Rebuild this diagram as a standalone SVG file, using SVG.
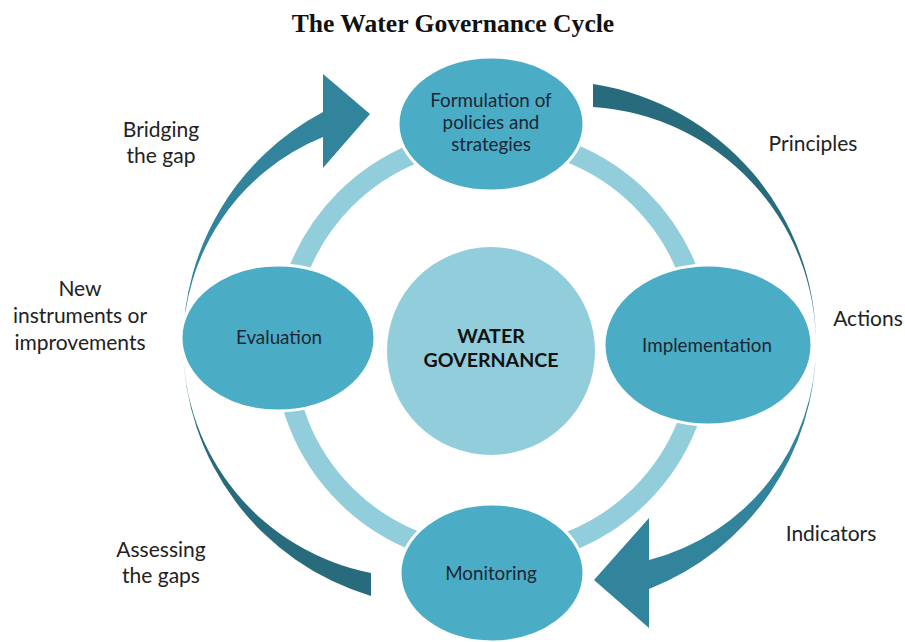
<svg xmlns="http://www.w3.org/2000/svg" width="905" height="642" viewBox="0 0 905 642">
<style>
.node{fill:#4BACC6;stroke:#ffffff;stroke-width:3}
.nt{font-family:Lato,"Open Sans",sans-serif;font-size:18.8px;fill:#1d2733;text-anchor:middle}
.lbl{font-family:Lato,"Open Sans",sans-serif;font-size:21px;fill:#222222;text-anchor:middle}
.mid{fill:#31849B}
.dark{fill:#286B7D}
</style>
<rect width="905" height="642" fill="#ffffff"/>
<text x="453" y="32" font-family="'Liberation Serif',serif" font-weight="bold" font-size="25.6" text-anchor="middle" fill="#111">The Water Governance Cycle</text>
<g id="connectors">
<circle id="ring" cx="493" cy="347" r="209" fill="none" stroke="#92CDDC" stroke-width="20"/>
<path id="arrow-bridging" class="mid" d="M183 345 A263 263 0 0 1 323 112 L323 74 L370 114 L323 168 L323 137 A224.5 224.5 0 0 0 183 345 Z"/>
<path id="arc-principles" class="dark" d="M593 84 A263 263 0 0 1 816 345 A238.5 238.5 0 0 0 593 107 Z"/>
<path id="arrow-indicators" class="mid" d="M816 345 A263 263 0 0 1 649 589 L649 628 L594 580 L649 518 L649 560 A221.9 221.9 0 0 0 816 345 Z"/>
<path id="arc-assessing" class="dark" d="M183 345 A263 263 0 0 0 371 596 L371 573 A232.3 232.3 0 0 1 183 345 Z"/>
</g>
<g id="center">
<circle cx="491" cy="351" r="104" fill="#92CDDC"/>
<text x="491" y="343" font-family="Lato,'Open Sans',sans-serif" font-weight="bold" font-size="19.6" text-anchor="middle" fill="#111">WATER</text>
<text x="491" y="367" font-family="Lato,'Open Sans',sans-serif" font-weight="bold" font-size="19.6" text-anchor="middle" fill="#111">GOVERNANCE</text>
</g>
<g id="formulation">
<ellipse class="node" cx="491" cy="124" rx="93" ry="67"/>
<text class="nt" x="491" y="107">Formulation of</text>
<text class="nt" x="491" y="129">policies and</text>
<text class="nt" x="491" y="151">strategies</text>
</g>
<g id="implementation">
<ellipse class="node" cx="708" cy="345" rx="104" ry="80"/>
<text class="nt" x="707" y="352">Implementation</text>
</g>
<g id="monitoring">
<ellipse class="node" cx="492" cy="573" rx="92" ry="69"/>
<text class="nt" x="491" y="580">Monitoring</text>
</g>
<g id="evaluation">
<ellipse class="node" cx="278" cy="338" rx="97" ry="73"/>
<text class="nt" x="279" y="344">Evaluation</text>
</g>
<g id="labels">
<text class="lbl" x="161" y="137">Bridging</text>
<text class="lbl" x="161" y="163">the gap</text>
<text class="lbl" x="80" y="296">New</text>
<text class="lbl" x="80" y="323">instruments or</text>
<text class="lbl" x="80" y="350">improvements</text>
<text class="lbl" x="161" y="557">Assessing</text>
<text class="lbl" x="161" y="583">the gaps</text>
<text class="lbl" x="813" y="151">Principles</text>
<text class="lbl" x="868" y="326">Actions</text>
<text class="lbl" x="831" y="541">Indicators</text>
</g>
</svg>
